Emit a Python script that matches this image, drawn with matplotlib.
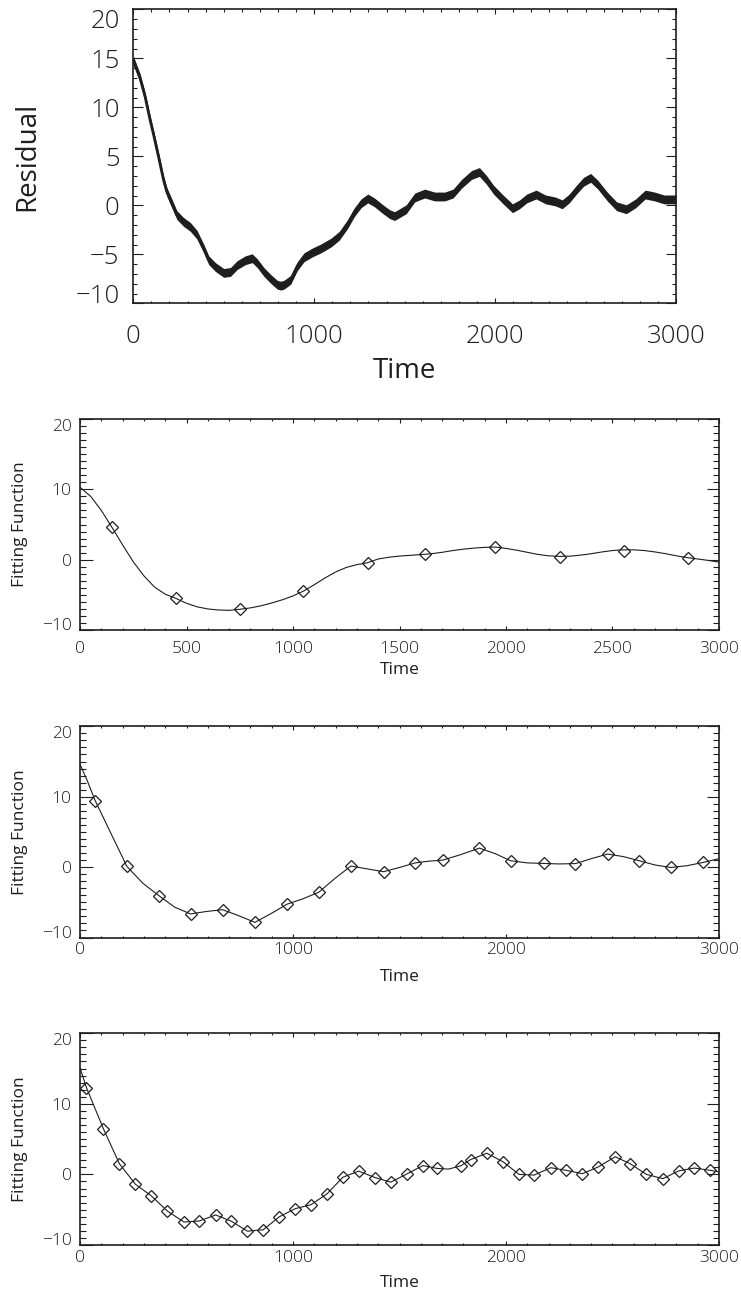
import matplotlib
matplotlib.use('Agg')
import matplotlib.pyplot as plt
from matplotlib.ticker import MultipleLocator

# residual trace (centre line of the noisy signal)
res_t = [0, 37, 65, 93, 111, 139, 167, 185, 213, 241, 278, 315, 352, 389, 417, 454,
         500, 537, 574, 620, 657, 685, 722, 759, 796, 815, 833, 870, 907, 944, 991,
         1037, 1093, 1139, 1185, 1222, 1259, 1296, 1333, 1380, 1417, 1444, 1463, 1509,
         1556, 1583, 1611, 1666, 1722, 1768, 1815, 1870, 1913, 1952, 1991, 2044, 2096,
         2135, 2175, 2227, 2279, 2332, 2371, 2410, 2450, 2489, 2528, 2568, 2620, 2672,
         2725, 2777, 2830, 2882, 2934, 3000]
res_v = [14.8, 13.0, 11.1, 8.7, 7.3, 5.0, 2.6, 1.4, 0.2, -1.0, -1.7, -2.2, -3.0, -4.4, -5.6, -6.3,
         -6.9, -6.8, -6.1, -5.6, -5.4, -5.9, -6.8, -7.5, -8.1, -8.2, -8.1, -7.6, -6.2, -5.3, -4.8,
         -4.4, -3.8, -3.1, -1.9, -0.7, 0.2, 0.7, 0.3, -0.4, -0.9, -1.1, -0.9, -0.4,
         0.8, 1.0, 1.2, 0.9, 0.9, 1.2, 2.2, 3.1, 3.4, 2.6, 1.6, 0.6, -0.3,
         0.1, 0.7, 1.1, 0.6, 0.4, 0.1, 0.7, 1.6, 2.4, 2.8, 2.1, 0.9, -0.1,
         -0.4, 0.2, 1.1, 0.9, 0.6, 0.6]

# fit with 10 nodes
fit1_t = [0, 50, 100, 150, 200, 250, 300, 350, 400, 450, 500, 550, 600, 650, 700, 750,
          800, 850, 900, 950, 1000, 1050, 1100, 1150, 1200, 1250, 1300, 1350, 1400, 1450,
          1500, 1550, 1600, 1650, 1700, 1750, 1800, 1850, 1900, 1950, 2000, 2050, 2100,
          2150, 2200, 2250, 2300, 2350, 2400, 2450, 2500, 2550, 2600, 2650, 2700, 2750,
          2800, 2850, 2900, 2950, 3000]
fit1_v = [10.3, 9.0, 7.0, 4.6, 2.1, -0.3, -2.3, -3.9, -4.9, -5.5, -6.2, -6.7, -7.0, -7.15, -7.2, -7.05,
          -6.85, -6.55, -6.15, -5.7, -5.15, -4.45, -3.55, -2.6, -1.75, -1.1, -0.7, -0.43, 0.1, 0.35,
          0.52, 0.62, 0.72, 0.85, 1.05, 1.3, 1.5, 1.65, 1.75, 1.8, 1.6, 1.35, 1.05,
          0.75, 0.55, 0.47, 0.5, 0.65, 0.85, 1.1, 1.3, 1.4, 1.4, 1.3, 1.1, 0.85,
          0.55, 0.3, 0.1, -0.1, -0.35]
node1_t = [150, 450, 750, 1045, 1350, 1620, 1950, 2255, 2555, 2855]
node1_v = [4.6, -5.45, -7.05, -4.5, -0.45, 0.75, 1.8, 0.45, 1.3, 0.3]

# fit with 20 nodes
fit2_t = [0, 35, 71, 145, 220, 295, 370, 445, 519, 594, 669, 745, 821, 897, 973, 1047,
          1122, 1197, 1272, 1348, 1425, 1500, 1574, 1640, 1704, 1790, 1875, 1950, 2022,
          2100, 2177, 2250, 2326, 2400, 2477, 2550, 2626, 2700, 2773, 2850, 2927, 3000]
fit2_v = [14.6, 12.2, 9.45, 4.8, 0.1, -2.3, -4.05, -5.7, -6.65, -6.3, -6.05, -6.9, -7.85, -6.6, -5.25, -4.5,
          -3.55, -1.6, 0.15, -0.25, -0.65, -0.05, 0.6, 0.85, 1.0, 1.8, 2.7, 1.9, 0.9,
          0.6, 0.52, 0.45, 0.5, 1.2, 1.85, 1.5, 0.9, 0.3, -0.05, 0.2, 0.67, 1.2]
node2_t = [71, 220, 370, 519, 669, 821, 973, 1122, 1272, 1425, 1574, 1704, 1875, 2022,
           2177, 2326, 2477, 2626, 2773, 2927]
node2_v = [9.45, 0.1, -4.05, -6.65, -6.05, -7.85, -5.25, -3.55, 0.15, -0.65, 0.6, 1.0, 2.7, 0.9,
           0.52, 0.5, 1.85, 0.9, -0.05, 0.67]

# fit with 40 nodes
fit3_t = [0, 30, 110, 185, 260, 333, 410, 488, 560, 637, 711, 786, 860, 936, 1011, 1084,
          1160, 1234, 1308, 1385, 1459, 1534, 1610, 1675, 1730, 1787, 1834, 1910, 1988, 2061,
          2132, 2210, 2283, 2359, 2432, 2513, 2584, 2659, 2737, 2811, 2884, 2960, 3000]
fit3_v = [15.1, 12.3, 6.45, 1.5, -1.4, -3.0, -5.2, -6.75, -6.6, -5.75, -6.65, -8.05, -7.85, -6.0, -4.85, -4.3,
          -2.75, -0.4, 0.47, -0.45, -1.1, 0.05, 1.25, 0.85, 0.75, 1.2, 2.1, 3.0, 1.75, 0.0,
          -0.1, 0.95, 0.57, 0.1, 1.04, 2.5, 1.5, 0.0, -0.6, 0.5, 0.9, 0.57, 0.35]
node3_t = [30, 110, 185, 260, 333, 410, 488, 560, 637, 711, 786, 860, 936, 1011, 1084,
           1160, 1234, 1308, 1385, 1459, 1534, 1610, 1675, 1787, 1834, 1910, 1988, 2061,
           2132, 2210, 2283, 2359, 2432, 2513, 2584, 2659, 2737, 2811, 2884, 2960]
node3_v = [12.3, 6.45, 1.5, -1.4, -3.0, -5.2, -6.75, -6.6, -5.75, -6.65, -8.05, -7.85, -6.0, -4.85, -4.3,
           -2.75, -0.4, 0.47, -0.45, -1.1, 0.05, 1.25, 0.85, 1.2, 2.1, 3.0, 1.75, 0.0,
           -0.1, 0.95, 0.57, 0.1, 1.04, 2.5, 1.5, 0.0, -0.6, 0.5, 0.9, 0.57]

plt.rcParams['font.family'] = ['Open Sans', 'DejaVu Sans']
plt.rcParams['font.weight'] = 'light'
plt.rcParams['axes.unicode_minus'] = True

INK = '#1e1e1e'
BAND = 0.45  # half thickness of the noisy residual trace


def style_axes(ax, xmajor, ymajor, fs, ylen, xlen, ypad, xpad):
    ax.set_xlim(0, 3000)
    ax.set_ylim(-10, 20)
    ax.xaxis.set_major_locator(MultipleLocator(xmajor))
    ax.xaxis.set_minor_locator(MultipleLocator(100))
    ax.yaxis.set_major_locator(MultipleLocator(ymajor))
    ax.yaxis.set_minor_locator(MultipleLocator(1))
    ax.tick_params(which='both', direction='in', top=True, right=True,
                   width=0.8, color=INK, labelcolor=INK, labelsize=fs)
    ax.tick_params(axis='y', which='major', length=ylen[0], pad=ypad)
    ax.tick_params(axis='y', which='minor', length=ylen[1])
    ax.tick_params(axis='x', which='major', length=xlen[0], pad=xpad)
    ax.tick_params(axis='x', which='minor', length=xlen[1])
    for s in ax.spines.values():
        s.set_linewidth(1.2)
        s.set_color(INK)
    # keep the end labels inside the frame
    locs = ax.yaxis.get_majorticklocs()
    for loc, tick in zip(locs, ax.yaxis.get_major_ticks(len(locs))):
        if loc == 20:
            tick.label1.set_verticalalignment('top')
        elif loc == -10:
            tick.label1.set_verticalalignment('baseline')


fig = plt.figure(figsize=(7.41, 12.94), dpi=100)

# top: residual
ax0 = fig.add_axes([0.1799, 0.7656, 0.7324, 0.2272])
ax0.fill_between(res_t, [v - BAND for v in res_v], [v + BAND for v in res_v],
                 color=INK, linewidth=0)
ax0.plot(res_t, res_v, color=INK, linewidth=2.0)
style_axes(ax0, 1000, 5, 18.5, (7.2, 3.1), (3.6, 1.8), 10, 15)
ax0.set_xlabel('Time', fontsize=20, color=INK)
ax0.set_ylabel('Residual', fontsize=20, color=INK)
ax0.xaxis.label.set_verticalalignment('center')
ax0.yaxis.label.set_verticalalignment('center')
ax0.xaxis.set_label_coords(0.5, -0.23)
ax0.yaxis.set_label_coords(-0.196, 0.5)

# fitted functions
panels = [
    ([0.1080, 0.5131, 0.8623, 0.1631], fit1_t, fit1_v, node1_t, node1_v, 500, 8, -0.19),
    ([0.1080, 0.2755, 0.8623, 0.1632], fit2_t, fit2_v, node2_t, node2_v, 1000, 3.5, -0.187),
    ([0.1080, 0.0379, 0.8623, 0.1636], fit3_t, fit3_v, node3_t, node3_v, 1000, 3.5, -0.181),
]
for rect, ft, fv, nt, nv, xmajor, xpad, ty in panels:
    ax = fig.add_axes(rect)
    ax.plot(ft, fv, color=INK, linewidth=0.8)
    ax.plot(nt, nv, linestyle='none', marker='D', markersize=6.5,
            markerfacecolor='none', markeredgecolor=INK, markeredgewidth=0.9)
    style_axes(ax, xmajor, 10, 12.5, (9, 4.3), (2.9, 1.7), 6, xpad)
    ax.set_xlabel('Time', fontsize=12.5, color=INK)
    ax.set_ylabel('Fitting Function', fontsize=12.5, color=INK)
    ax.xaxis.label.set_verticalalignment('center')
    ax.yaxis.label.set_verticalalignment('center')
    ax.xaxis.set_label_coords(0.5, ty)
    ax.yaxis.set_label_coords(-0.094, 0.5)

fig.savefig('out.png', dpi=100)
